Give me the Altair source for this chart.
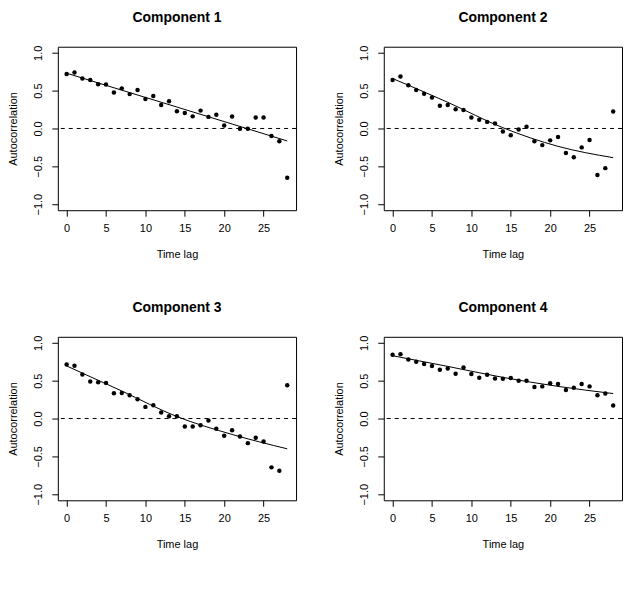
import altair as alt
import pandas as pd

# Sample autocorrelations of the four components at lags 0..28
lags = list(range(29))

acf_1 = [0.72, 0.74, 0.66, 0.64, 0.585, 0.58, 0.476, 0.53, 0.454, 0.507,
         0.39, 0.43, 0.31, 0.36, 0.227, 0.205, 0.16, 0.236, 0.153, 0.18,
         0.04, 0.157, -0.004, -0.004, 0.144, 0.144, -0.10, -0.17, -0.65]
acf_2 = [0.64, 0.686, 0.57, 0.507, 0.46, 0.41, 0.30, 0.31, 0.253, 0.245,
         0.144, 0.114, 0.087, 0.066, -0.04, -0.09, -0.013, 0.022, -0.17, -0.22,
         -0.157, -0.114, -0.323, -0.38, -0.25, -0.153, -0.616, -0.524, 0.223]
acf_3 = [0.715, 0.697, 0.583, 0.49, 0.48, 0.47, 0.333, 0.338, 0.307, 0.254,
         0.154, 0.175, 0.079, 0.03, 0.03, -0.105, -0.105, -0.088, -0.026, -0.136,
         -0.228, -0.154, -0.237, -0.325, -0.254, -0.303, -0.645, -0.689, 0.439]
acf_4 = [0.842, 0.851, 0.78, 0.75, 0.72, 0.693, 0.645, 0.662, 0.592, 0.675,
         0.588, 0.54, 0.579, 0.53, 0.526, 0.535, 0.5, 0.5, 0.417, 0.425,
         0.465, 0.456, 0.377, 0.408, 0.456, 0.425, 0.307, 0.33, 0.171]

# Smoothed trend of each component, sampled every 7 lags
fit_lags = [0, 7, 14, 21, 28]
fit_1 = [0.73, 0.506, 0.283, 0.059, -0.165]
fit_2 = [0.66, 0.346, 0.01, -0.236, -0.386]
fit_3 = [0.695, 0.364, 0.026, -0.21, -0.40]
fit_4 = [0.83, 0.689, 0.544, 0.425, 0.33]

titles = ["Component 1", "Component 2", "Component 3", "Component 4"]
acfs = [acf_1, acf_2, acf_3, acf_4]
fits = [fit_1, fit_2, fit_3, fit_4]

FONT = "Liberation Sans"
W, H = 239, 164


def panel(title, acf, fit):
    pts = pd.DataFrame({"lag": lags, "acf": acf})
    trend = pd.DataFrame({"lag": fit_lags, "acf": fit})
    x = alt.X("lag:Q", scale=alt.Scale(domain=[-1.12, 29.12], nice=False, zero=False),
              axis=alt.Axis(values=[0, 5, 10, 15, 20, 25], title="Time lag"))
    y = alt.Y("acf:Q", scale=alt.Scale(domain=[-1.08, 1.08], nice=False),
              axis=alt.Axis(values=[-1, -0.5, 0, 0.5, 1], format=".1f",
                            title="Autocorrelation", labelAngle=-90,
                            labelAlign="center", labelBaseline="bottom"))
    zero = alt.Chart(pd.DataFrame({"y": [0]})).mark_rule(
        color="black", strokeWidth=1, strokeDash=[4, 4]
    ).encode(y=alt.Y("y:Q"))
    dots = alt.Chart(pts).mark_circle(size=20, color="black", opacity=1).encode(x=x, y=y)
    line = alt.Chart(trend).mark_line(color="black", strokeWidth=1,
                                      interpolate="monotone").encode(x=x, y=y)
    return alt.layer(zero, line, dots).properties(
        width=W, height=H,
        title=alt.TitleParams(title, fontSize=14, font=FONT, fontWeight="bold",
                              color="black", offset=20, anchor="middle"),
    )


panels = [panel(t, a, f) for t, a, f in zip(titles, acfs, fits)]

chart = alt.vconcat(
    alt.hconcat(panels[0], panels[1], spacing=36),
    alt.hconcat(panels[2], panels[3], spacing=36),
    spacing=40,
).properties(
    padding={"left": 7, "top": 9, "right": 2, "bottom": 2},
    background="white",
).configure_view(
    stroke="black", strokeWidth=1
).configure_axis(
    grid=False, domain=False, ticks=True, tickSize=6, tickColor="black",
    labelColor="black", titleColor="black",
    labelFont=FONT, titleFont=FONT, labelFontSize=11, titleFontSize=11,
    titleFontWeight="normal",
).configure_axisX(
    labelPadding=6, titlePadding=15,
).configure_axisY(
    labelPadding=8, titlePadding=14,
)

chart.save("out.html", embed_options={"renderer": "svg", "actions": False})
